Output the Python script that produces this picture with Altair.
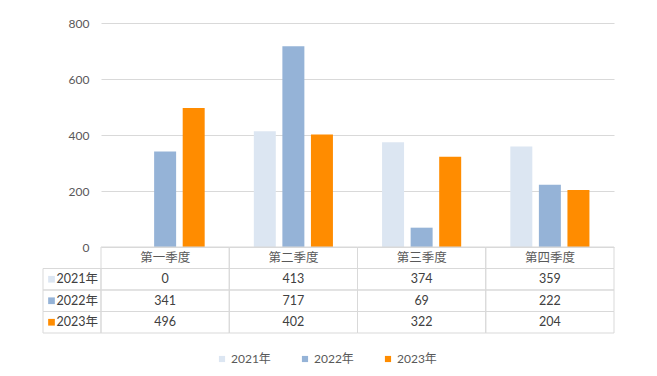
import altair as alt
import pandas as pd

quarters = ["第一季度", "第二季度", "第三季度", "第四季度"]
years = ["2021年", "2022年", "2023年"]
v2021 = [0, 413, 374, 359]
v2022 = [341, 717, 69, 222]
v2023 = [496, 402, 322, 204]
colors = ["#dce6f2", "#95b3d7", "#ff8c00"]
y_ticks = [0, 200, 400, 600, 800]

series = [v2021, v2022, v2023]
bars_df = pd.DataFrame(
    [{"quarter": q, "year": y, "value": vals[i]}
     for y, vals in zip(years, series) for i, q in enumerate(quarters)]
)
rows = ["header"] + years
cells_df = pd.DataFrame(
    [{"quarter": q, "row": "header", "label": q, "kind": "header"} for q in quarters]
    + [{"quarter": q, "row": y, "label": str(vals[i]), "kind": "value"}
       for y, vals in zip(years, series) for i, q in enumerate(quarters)]
)
labels_df = pd.DataFrame([{"col": "label", "row": y, "year": y} for y in years])

W, H = 513, 224
GRID = "#d9d9d9"
NUM_FONT = "Lato, Noto Sans CJK SC"
CJK_FONT = "Noto Sans CJK SC"

q_scale = alt.Scale(domain=quarters, paddingInner=0, paddingOuter=0)
row_scale = alt.Scale(domain=rows, range=[224, 310], paddingInner=0, paddingOuter=0)
col_scale = alt.Scale(domain=["label"], range=[-58, 0], paddingInner=0, paddingOuter=0)
sq_scale = alt.Scale(type="point", domain=["label"], range=[-49.5, -49.5])
txt_scale = alt.Scale(type="point", domain=["label"], range=[-44.5, -44.5])

color_enc = alt.Color(
    "year:N",
    scale=alt.Scale(domain=years, range=colors),
    legend=alt.Legend(
        title=None, orient="none", direction="horizontal",
        legendX=115, legendY=330, symbolType="square", symbolSize=38,
        symbolStrokeWidth=0, labelFont=NUM_FONT, labelFontSize=12,
        labelColor="#595959", columnPadding=28, labelOffset=3,
    ),
)

bars = alt.Chart(bars_df).mark_bar().encode(
    x=alt.X("quarter:N", sort=quarters, scale=q_scale, axis=None),
    xOffset=alt.XOffset("year:N", sort=years,
                        scale=alt.Scale(domain=years, paddingInner=0.23, paddingOuter=0.86)),
    y=alt.Y("value:Q", scale=alt.Scale(domain=[0, 800], nice=False),
            axis=alt.Axis(values=y_ticks, title=None, domain=False, ticks=False,
                          grid=True, gridColor=GRID, labelFont=NUM_FONT,
                          labelFontSize=12, labelColor="#595959", labelPadding=12)),
    color=color_enc,
)

cells = alt.Chart(cells_df).mark_rect(fill=None, stroke=GRID, strokeWidth=1).encode(
    x=alt.X("quarter:N", sort=quarters, scale=q_scale, axis=None),
    y=alt.Y("row:N", scale=row_scale, axis=None),
)

label_cells = alt.Chart(labels_df).mark_rect(fill=None, stroke=GRID, strokeWidth=1).encode(
    x=alt.X("col:N", scale=col_scale, axis=None),
    y=alt.Y("row:N", scale=row_scale, axis=None),
)

header_text = alt.Chart(cells_df).transform_filter(alt.datum.kind == "header").mark_text(
    font=CJK_FONT, fontSize=12.5, color="#595959", baseline="middle", align="center"
).encode(
    x=alt.X("quarter:N", sort=quarters, scale=q_scale, axis=None, bandPosition=0.5),
    y=alt.Y("row:N", scale=row_scale, axis=None, bandPosition=0.5),
    text="label:N",
)

value_text = alt.Chart(cells_df).transform_filter(alt.datum.kind == "value").mark_text(
    font=NUM_FONT, fontSize=12.5, color="#404040", baseline="middle", align="center"
).encode(
    x=alt.X("quarter:N", sort=quarters, scale=q_scale, axis=None, bandPosition=0.5),
    y=alt.Y("row:N", scale=row_scale, axis=None, bandPosition=0.5),
    text="label:N",
)

label_squares = alt.Chart(labels_df).mark_square(size=45, opacity=1).encode(
    x=alt.X("col:N", scale=sq_scale, axis=None),
    y=alt.Y("row:N", scale=row_scale, axis=None, bandPosition=0.5),
    color=color_enc,
)

label_text = alt.Chart(labels_df).mark_text(
    font=NUM_FONT, fontSize=12.5, color="#404040", baseline="middle", align="left"
).encode(
    x=alt.X("col:N", scale=txt_scale, axis=None),
    y=alt.Y("row:N", scale=row_scale, axis=None, bandPosition=0.5),
    text="row:N",
)

chart = alt.layer(
    bars, cells, label_cells, header_text, value_text, label_squares, label_text
).resolve_scale(
    x="independent", y="independent"
).properties(
    width=W, height=H,
    autosize=alt.AutoSizeParams(type="none"),
    padding={"left": 101, "top": 23, "right": 43, "bottom": 129},
    background="white",
).configure_view(stroke=None)

chart.save("out.html", embed_options={"renderer": "svg", "actions": False})
